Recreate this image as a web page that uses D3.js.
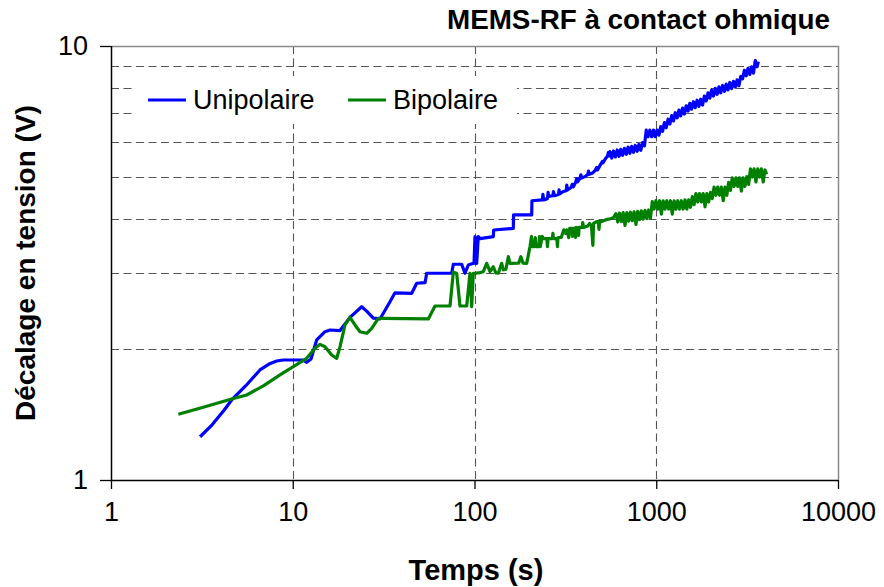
<!DOCTYPE html>
<html>
<head>
<meta charset="utf-8">
<script src="https://cdn.jsdelivr.net/npm/d3@7/dist/d3.min.js"></script>
<style>
  html, body { margin: 0; padding: 0; background: #fff; }
  svg { display: block; font-family: "Liberation Sans", Arial, sans-serif; }
</style>
</head>
<body>
<svg id="chart" width="884" height="587"></svg>
<script>
// Titles and tick labels
const chartTitle = "MEMS-RF à contact ohmique";
const xTitle = "Temps (s)";
const yTitle = "Décalage en tension (V)";
const xTickValues = [1, 10, 100, 1000, 10000];
const yTickValues = [1, 10];
const xGridValues = [10, 100, 1000];
const yGridValues = [2, 3, 4, 5, 6, 7, 8, 9];
const seriesNames = ["Unipolaire", "Bipolaire"];
const seriesColors = ["#0000ff", "#008000"];

// Unipolaire : time (s) / voltage shift (V)
const blueTime = [3.09, 3.6, 4.2, 4.61, 5.5, 6.6, 7.4, 8.16, 8.84, 11.39, 11.93, 12.6, 13.54, 15.05, 16.03, 18.2,
  20.65, 23.95, 25.5, 27.75, 30.2, 34.28, 36.52, 45.13, 48.08, 53.43, 54.58, 74.93, 76.46, 85.0, 88.64, 92.45,
  98.5, 99.4, 100.6, 102.8, 104.9, 107.2, 126.9, 127.5, 163.5, 164, 206.4,
  207, 236, 238, 240, 252, 254, 256, 270, 272, 275, 290, 292, 294, 308, 320, 322, 325, 340, 345, 350,
  360, 365, 368, 380, 385, 388, 405, 420, 424, 428, 447, 460, 470, 475, 490, 505, 510, 525, 540, 545, 550,
  556, 569, 582, 596, 610, 624, 638, 653, 668, 684, 700, 716, 733, 750, 767, 785, 803, 822, 841, 861,
  881, 901, 922, 944, 966, 988, 1011, 1035, 1059, 1084, 1109, 1135, 1161, 1188, 1216, 1244, 1273, 1303,
  1333, 1364, 1396, 1428, 1462, 1496, 1530, 1566, 1603, 1640, 1678, 1717, 1757, 1798, 1840, 1883, 1927,
  1972, 2018, 2065, 2113, 2162, 2212, 2264, 2317, 2371, 2426, 2482, 2540, 2599, 2660, 2722, 2785, 2850,
  2917, 2985, 3054, 3125, 3198, 3273, 3349, 3427, 3507, 3589, 3644];
const blueVolt = [1.258, 1.34, 1.45, 1.529, 1.647, 1.793, 1.85, 1.88, 1.89, 1.89, 1.867, 1.90, 2.102, 2.196, 2.216, 2.21,
  2.37, 2.507, 2.45, 2.36, 2.35, 2.575, 2.70, 2.693, 2.84, 2.849, 2.995, 2.995, 3.141, 3.141, 2.995, 3.129,
  3.157, 3.157, 3.636, 3.157, 3.636, 3.60, 3.636, 3.767, 3.80, 4.08, 4.08,
  4.40, 4.42, 4.55, 4.42, 4.45, 4.60, 4.50, 4.52, 4.62, 4.52, 4.55, 4.66, 4.56, 4.62, 4.64, 4.78, 4.66, 4.72, 4.80, 4.74,
  4.85, 4.95, 4.86, 4.95, 5.05, 4.96, 5.00, 5.06, 5.15, 5.06, 5.10, 5.16, 5.25, 5.18, 5.30, 5.42, 5.38, 5.50, 5.58, 5.68, 5.58,
  5.71, 5.52, 5.73, 5.55, 5.76, 5.57, 5.78, 5.60, 5.81, 5.63, 5.85, 5.66, 5.87, 5.69, 5.90, 5.72, 5.93, 5.75, 5.99, 5.89,
  6.40, 6.18, 6.40, 6.18, 6.40, 6.18, 6.40, 6.23, 6.52, 6.36, 6.66, 6.48, 6.78, 6.61, 6.91, 6.72, 7.02, 6.83,
  7.12, 6.90, 7.19, 6.97, 7.28, 7.08, 7.38, 7.15, 7.44, 7.21, 7.50, 7.26, 7.54, 7.31, 7.67, 7.47, 7.80,
  7.58, 7.92, 7.67, 7.99, 7.74, 8.05, 7.80, 8.11, 7.86, 8.17, 7.92, 8.24, 7.98, 8.29, 8.04, 8.36, 8.10,
  8.51, 8.40, 8.79, 8.54, 8.88, 8.60, 8.95, 8.66, 9.26, 8.96, 9.20];

// Bipolaire : time (s) / voltage shift (V)
const greenTime = [2.346, 3.22, 4.0, 4.61, 5.58, 6.89, 8.51, 10.07, 11.93, 13.26, 14.13, 15.05, 16.38, 17.45, 18.2,
  19.39, 20.65, 22.0, 23.44, 25.52, 27.19, 29.56, 31.49, 55.7, 60.63, 73.33, 76.46, 79.8, 83.2, 90.6, 94.45,
  96.5, 98.5, 100.6, 105, 111.8, 116.7, 121.7, 126.9, 131, 135.2, 141.1, 144.1, 149, 153.5, 156.8, 175, 180,
  185, 193.8,
  202, 206, 208, 214, 216, 218, 226, 228, 230, 236, 239, 250, 252, 254, 268, 270, 272, 284, 286, 288, 300,
  310, 318, 322, 330, 334, 344, 346, 348, 358, 360, 362, 372, 374, 376, 392, 394, 398, 420, 430, 440, 448,
  452, 470, 480, 484, 488, 500, 530, 560, 580,
  600, 614, 628, 643, 658, 673, 689, 705, 721, 738, 755, 773, 791, 809, 828, 847, 867, 887, 908, 929,
  951, 973, 996, 1019, 1043, 1067, 1092, 1117, 1143, 1170, 1197, 1225, 1254, 1283, 1313, 1343, 1375, 1407,
  1440, 1473, 1508, 1543, 1579, 1615, 1653, 1692, 1731, 1771, 1813, 1855, 1898, 1942, 1988, 2034, 2081,
  2130, 2179, 2230, 2282, 2335, 2390, 2445, 2502, 2560, 2620, 2681, 2744, 2808, 2873, 2940, 3008, 3078,
  3150, 3224, 3299, 3376, 3454, 3535, 3617, 3701, 3788, 3876, 3966, 4050];
const greenVolt = [1.417, 1.471, 1.51, 1.537, 1.570, 1.647, 1.746, 1.824, 1.907, 2.012, 2.054, 2.028, 1.941, 1.907, 2.028,
  2.276, 2.371, 2.276, 2.196, 2.178, 2.236, 2.358, 2.358, 2.35, 2.517, 2.517, 3.011, 2.995, 2.517, 2.517, 2.995,
  2.507, 2.995, 2.995, 3.00, 3.02, 3.157, 3.02, 3.10, 3.00, 2.995, 3.157, 3.05, 3.06, 3.27, 3.157, 3.16, 3.27,
  3.16, 3.157,
  3.45, 3.64, 3.45, 3.45, 3.62, 3.45, 3.45, 3.64, 3.45, 3.64, 3.60, 3.60, 3.45, 3.60, 3.60, 3.70, 3.60, 3.60, 3.45, 3.62, 3.62,
  3.77, 3.70, 3.77, 3.62, 3.80, 3.80, 3.64, 3.80, 3.80, 3.62, 3.82, 3.80, 3.66, 3.82, 3.82, 3.92, 3.82, 3.85, 3.90, 3.85, 3.47,
  3.90, 3.94, 3.94, 3.78, 3.94, 3.94, 3.98, 4.00, 4.02,
  4.11, 3.93, 4.12, 3.94, 4.13, 3.86, 4.13, 3.95, 4.14, 3.96, 4.15, 3.88, 4.16, 3.98, 4.17, 3.99, 4.18, 4.00, 4.19, 4.01,
  4.38, 4.21, 4.40, 4.21, 4.40, 4.10, 4.40, 4.21, 4.40, 4.21, 4.40, 4.10, 4.40, 4.21, 4.40, 4.21, 4.40, 4.21,
  4.42, 4.21, 4.42, 4.25, 4.50, 4.31, 4.57, 4.37, 4.57, 4.37, 4.57, 4.26, 4.57, 4.37, 4.60, 4.45, 4.73,
  4.53, 4.73, 4.53, 4.73, 4.40, 4.73, 4.53, 4.85, 4.65, 4.97, 4.75, 4.97, 4.75, 4.97, 4.63, 4.97, 4.75,
  5.00, 4.80, 5.21, 4.99, 5.21, 4.86, 5.21, 4.99, 5.21, 4.86, 5.18, 5.06];

const svg = d3.select("#chart");
const plot = { left: 111, right: 838, top: 46, bottom: 480 };

const x = d3.scaleLog().domain([1, 10000]).range([plot.left, plot.right]);
const y = d3.scaleLog().domain([1, 10]).range([plot.bottom, plot.top]);

// grid
const grid = svg.append("g").attr("stroke", "#555").attr("stroke-width", 1.1)
  .attr("stroke-dasharray", "8,4.5").attr("fill", "none");
grid.selectAll("line.h").data(yGridValues).join("line").attr("class", "h")
  .attr("x1", plot.left).attr("x2", plot.right)
  .attr("y1", d => Math.round(y(d)) + 0.5).attr("y2", d => Math.round(y(d)) + 0.5);
grid.selectAll("line.v").data(xGridValues).join("line").attr("class", "v")
  .attr("y1", plot.top).attr("y2", plot.bottom)
  .attr("x1", d => Math.round(x(d)) + 0.5).attr("x2", d => Math.round(x(d)) + 0.5);

// frame (top and right)
svg.append("path")
  .attr("d", `M${plot.left},${plot.top + 0.5}H${plot.right + 0.5}V${plot.bottom}`)
  .attr("stroke", "#8a8a8a").attr("stroke-width", 1.5).attr("fill", "none");

// series
const lineGen = d3.line().x(d => x(d[0])).y(d => y(d[1]));
const series = [
  blueTime.map((t, i) => [t, blueVolt[i]]),
  greenTime.map((t, i) => [t, greenVolt[i]])
];
svg.append("g").selectAll("path").data(series).join("path")
  .attr("d", lineGen)
  .attr("fill", "none")
  .attr("stroke", (d, i) => seriesColors[i])
  .attr("stroke-width", 3.2)
  .attr("stroke-linejoin", "round");

// legend
const legend = svg.append("g");
legend.append("rect").attr("x", 133).attr("y", 76).attr("width", 384).attr("height", 48).attr("fill", "#fff");
const legendItems = [
  { name: seriesNames[0], color: seriesColors[0], x0: 148, tx: 193 },
  { name: seriesNames[1], color: seriesColors[1], x0: 348, tx: 393 }
];
legendItems.forEach(it => {
  legend.append("line").attr("x1", it.x0).attr("x2", it.x0 + 38).attr("y1", 100).attr("y2", 100)
    .attr("stroke", it.color).attr("stroke-width", 3.2);
  legend.append("text").attr("x", it.tx).attr("y", 109).attr("font-size", 27).attr("fill", "#000")
    .text(it.name);
});

// axes
const yAxis = d3.axisLeft(y).tickValues(yTickValues).tickFormat(d3.format("d")).tickSize(11).tickPadding(12);
const xAxis = d3.axisBottom(x).tickValues(xTickValues).tickFormat(d3.format("d")).tickSize(9).tickPadding(13);
const gy = svg.append("g").attr("transform", `translate(${plot.left},0)`).call(yAxis);
const gx = svg.append("g").attr("transform", `translate(0,${plot.bottom})`).call(xAxis);
[gx, gy].forEach(g => {
  g.select(".domain").attr("stroke", "#000").attr("stroke-width", 1.5);
  g.selectAll(".tick line").attr("stroke", "#000").attr("stroke-width", 1.3);
  g.selectAll(".tick text").attr("font-size", 27).attr("fill", "#000")
    .attr("font-family", "'Liberation Sans', Arial, sans-serif");
});
gx.select(".domain").attr("d", `M${plot.left},0.5H${plot.right}`);
gy.select(".domain").attr("d", `M0.5,${plot.bottom}V${plot.top}`);

// titles
svg.append("text").attr("x", 830).attr("y", 29).attr("text-anchor", "end")
  .attr("font-size", 28).attr("font-weight", "bold")
  .attr("textLength", 383).attr("lengthAdjust", "spacingAndGlyphs").text(chartTitle);
svg.append("text").attr("x", 476).attr("y", 580).attr("text-anchor", "middle")
  .attr("font-size", 29).attr("font-weight", "bold").text(xTitle);
svg.append("text").attr("transform", "translate(35,263) rotate(-90)").attr("text-anchor", "middle")
  .attr("font-size", 28).attr("font-weight", "bold").text(yTitle);
</script>
</body>
</html>
